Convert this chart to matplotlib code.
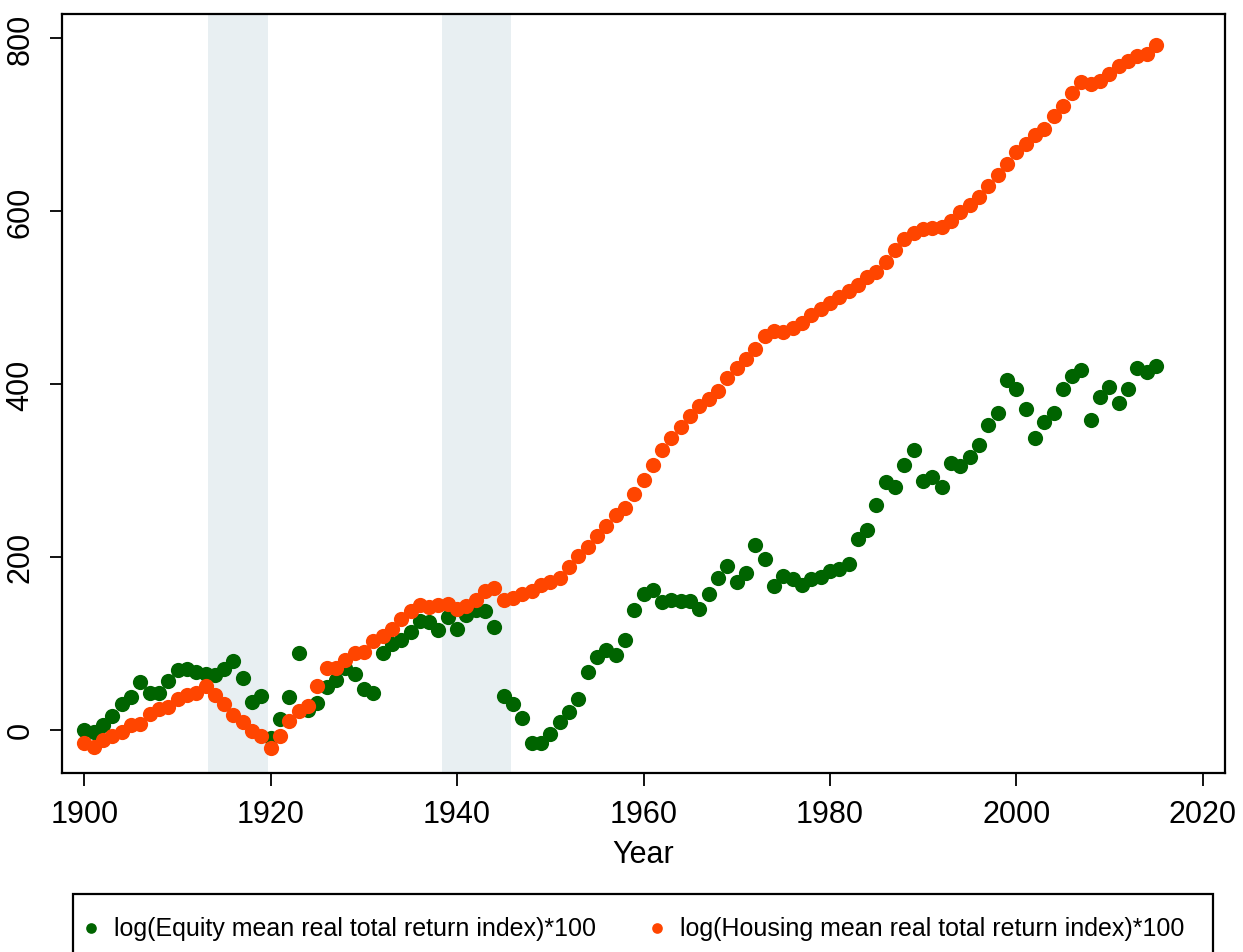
# -*- coding: utf-8 -*-
"""
Equity vs housing real total return index (log*100), 1900-2015
"""
# IMPORT STUFF
import numpy as np
import matplotlib
matplotlib.use('Agg')
from matplotlib import pyplot as plt
from matplotlib.patches import Rectangle
# END IMPORT

years = np.arange(1900, 2016)

equity = [0, -3, 6, 16, 30, 38, 55, 43, 43, 57,
          69, 70, 67, 65, 63, 70, 79, 60, 32, 39,
          -9, 13, 38, 89, 23, 31, 49, 58, 71, 65,
          47, 43, 89, 99, 104, 113, 126, 125, 115, 130,
          117, 133, 138, 137, 119, 39, 30, 14, -15, -15,
          -5, 9, 21, 36, 67, 84, 92, 86, 104, 139,
          157, 162, 148, 150, 149, 149, 140, 157, 176, 189,
          171, 181, 214, 198, 166, 178, 174, 167, 174, 177,
          184, 186, 192, 221, 231, 260, 287, 281, 306, 324,
          288, 292, 281, 309, 305, 315, 330, 352, 367, 405,
          394, 371, 337, 356, 367, 394, 409, 416, 358, 385,
          396, 378, 394, 419, 414, 421]

housing = [-15, -20, -12, -7, -3, 6, 7, 18, 24, 26,
           36, 40, 42, 51, 40, 30, 17, 9, -1, -7,
           -21, -7, 10, 22, 28, 51, 71, 72, 81, 89,
           90, 103, 108, 116, 128, 137, 144, 142, 144, 145,
           140, 143, 150, 160, 164, 150, 152, 157, 161, 167,
           171, 176, 188, 201, 212, 224, 236, 248, 257, 273,
           289, 306, 324, 337, 350, 363, 374, 383, 392, 407,
           419, 429, 440, 455, 461, 460, 465, 471, 480, 487,
           494, 501, 508, 515, 524, 530, 541, 555, 568, 575,
           579, 580, 582, 588, 599, 607, 616, 629, 642, 655,
           668, 678, 688, 695, 710, 721, 737, 749, 747, 750,
           759, 768, 774, 779, 782, 792]

# war periods shaded
wars = [(1913.3, 1919.7), (1938.4, 1945.8)]

xticks = [1900, 1920, 1940, 1960, 1980, 2000, 2020]
yticks = [0, 200, 400, 600, 800]

lab_eq = 'log(Equity mean real total return index)*100'
lab_ho = 'log(Housing mean real total return index)*100'

plt.rcParams['font.family'] = ['Liberation Sans', 'DejaVu Sans']

W, H = 1243., 953.
fig = plt.figure(figsize=(W/100, H/100), dpi=100)
ax = fig.add_axes([62/W, 1 - 774/H, (1225 - 62)/W, (774 - 15)/H])

for w in wars:
    ax.axvspan(w[0], w[1], color='#e8eff2', lw=0, zorder=0)

ax.scatter(years, equity, s=120, color='#006400', lw=0, label=lab_eq, zorder=2)
ax.scatter(years, housing, s=120, color='#ff4500', lw=0, label=lab_ho, zorder=3)

ax.set_xlim([1897.6, 2022.4])
ax.set_ylim([-50, 828])
ax.set_xticks(xticks)
ax.set_yticks(yticks)
ax.set_yticklabels([str(t) for t in yticks], rotation=90, va='center')
ax.tick_params(axis='both', direction='out', length=9, width=1.3,
               labelsize=22, pad=10)
ax.set_xlabel('Year', fontsize=22, labelpad=7)

for sp in ax.spines.values():
    sp.set_linewidth(1.6)

# legend box (runs off the bottom edge like the original)
box = Rectangle((73/W, -0.05), (1213 - 73)/W, 1 - 895/H + 0.05,
                transform=fig.transFigure, fill=False,
                edgecolor='black', lw=1.6)
fig.patches.append(box)

leg = fig.legend(loc='center left', ncol=2,
                 bbox_to_anchor=(85/W, 1 - 929/H),
                 fontsize=18, frameon=False,
                 markerscale=0.7, handletextpad=0.68, borderpad=0,
                 handlelength=0.5, columnspacing=2.15, borderaxespad=0)

fig.savefig('out.png', dpi=100)
